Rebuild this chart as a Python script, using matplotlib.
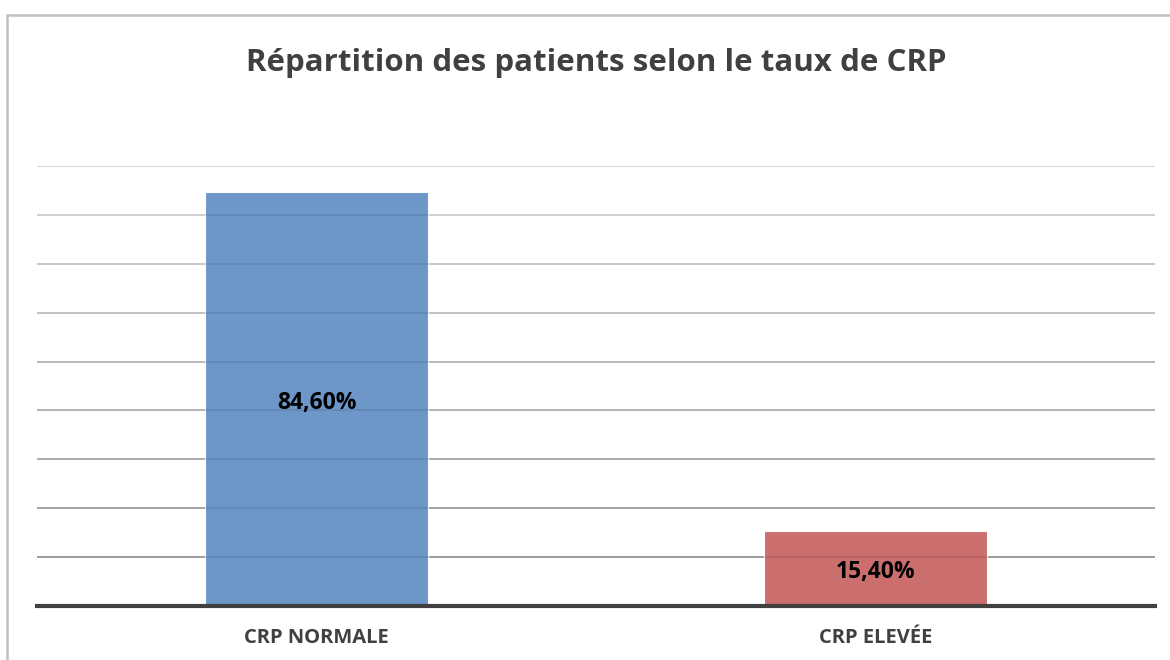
import matplotlib
matplotlib.use("Agg")
import matplotlib.pyplot as plt
from matplotlib.patches import Rectangle
from matplotlib.transforms import offset_copy
import numpy as np

categories = ["CRP NORMALE", "CRP ELEVÉE"]
values = [84.60, 15.40]
labels = ["84,60%", "15,40%"]
colors = ["#6893c8", "#c96a68"]
title = "Répartition des patients selon le taux de CRP"

plt.rcParams['font.family'] = ['Open Sans', 'DejaVu Sans']

fig = plt.figure(figsize=(11.7, 6.6), dpi=100)
fig.patch.set_facecolor("white")
# outer chart border
fig.add_artist(Rectangle((7/1170, -0.05), 1.2, 1 - 15/660 + 0.05, transform=fig.transFigure,
                         fill=False, edgecolor="#c0c0c0", linewidth=1.8))

ax = fig.add_axes([37/1170, 1 - 606/660, (1155 - 37)/1170, (606 - 166)/660])
ax.set_xlim(-0.5, 1.5)
ax.set_ylim(0, 90)

gl = np.arange(10, 91, 10)
for g in gl:
    t = (g - 10) / 80
    c = 0.64 + t * (0.90 - 0.64)
    ax.axhline(g, color=(c, c, c), linewidth=1.3, zorder=1)

x = np.arange(len(categories))
ax.bar(x, values, width=0.4, color=colors, alpha=0.97, zorder=2,
       edgecolor="white", linewidth=0.8)
for g in gl:
    ax.axhline(g, color="#000000", alpha=0.08, linewidth=1.3, zorder=3)

trans = offset_copy(ax.transData, fig=fig, x=0, y=-4, units="dots")
for xi, v, lab in zip(x, values, labels):
    ax.text(xi, v / 2, lab, ha="center", va="center", fontsize=16.5,
            fontweight="bold", color="black", zorder=4, transform=trans)

ax.axhline(0, color="#404040", linewidth=3, zorder=5, clip_on=False)
for s in ax.spines.values():
    s.set_visible(False)
ax.set_yticks([])
ax.set_xticks(x)
ax.set_xticklabels(categories, fontsize=14.5, fontweight="bold", color="#404040")
ax.tick_params(axis="x", length=0, pad=16)

fig.text(596/1170, 1 - 63/660, title, ha="center", va="center", fontsize=22.5,
         fontweight="bold", color="#404040")

fig.savefig("out.png", dpi=100, facecolor="white")
